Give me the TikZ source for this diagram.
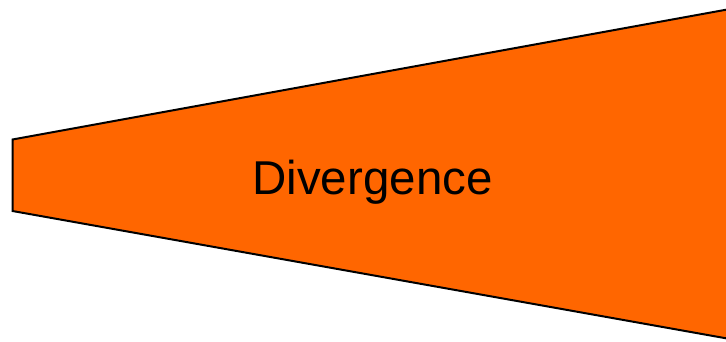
\documentclass[tikz,border=0pt]{standalone}
\usepackage{fontspec}
\setmainfont{Liberation Sans}
\definecolor{fillorange}{RGB}{255,102,0}
\begin{document}
\begin{tikzpicture}[x=1pt,y=-1pt,
  funnel/.style={draw=black,line width=2pt,fill=fillorange,line join=miter},
  label/.style={font=\fontsize{47.5}{52}\selectfont,text=black,inner sep=0pt,anchor=base}]
\useasboundingbox (0,0) rectangle (726,342);
\begin{scope}
\clip (0,0) rectangle (726,342);
\path[funnel] (12.5,139.5) coordinate (tl) -- (730,9) coordinate (tr) -- (730,339) coordinate (br) -- (12.5,211) coordinate (bl) -- cycle;
\end{scope}
\node[label] (txt) at (372.5,195) {Divergence};
\end{tikzpicture}
\end{document}
